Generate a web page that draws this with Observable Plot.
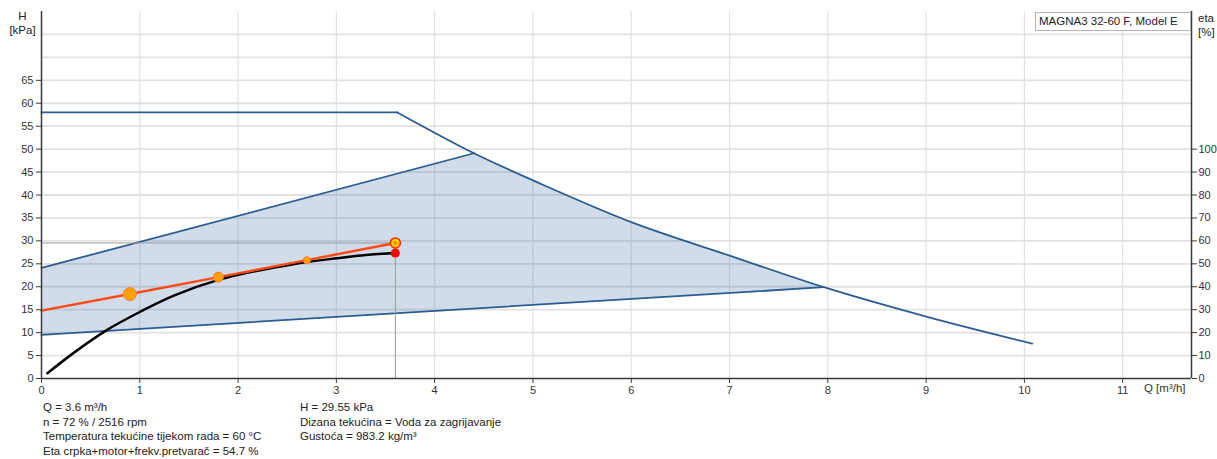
<!DOCTYPE html>
<html>
<head>
<meta charset="utf-8">
<script src="https://cdn.jsdelivr.net/npm/d3@7"></script>
<script src="https://cdn.jsdelivr.net/npm/@observablehq/plot@0.6"></script>
<style>
  body { margin: 0; background: #fff; font-family: Arial, "Liberation Sans", sans-serif; }
  #wrap { position: relative; width: 1217px; height: 459px; overflow: hidden; }
  #chart svg { display: block; }
  .ov { position: absolute; font-size: 11.5px; color: #222; white-space: nowrap; }
  #ylab { left: 6px; top: 10px; width: 33px; text-align: center; line-height: 13.5px; }
  #rlab { left: 1198px; top: 12px; line-height: 13.5px; }
  #title { left: 1035px; top: 12px; width: 156px; height: 19px; box-sizing: border-box;
           border: 1px solid #b4b4b4; background: #fff; padding-left: 3px; line-height: 17px; }
  #cap1 { left: 43px; top: 400px; line-height: 14.7px; }
  #cap2 { left: 300px; top: 400px; line-height: 14.7px; }
</style>
</head>
<body>
<div id="wrap">
  <div id="chart"></div>
  <div class="ov" id="ylab">H<br>[kPa]</div>
  <div class="ov" id="rlab">eta<br>[%]</div>
  <div class="ov" id="title">MAGNA3 32-60 F, Model E</div>
  <div class="ov" id="cap1"></div>
  <div class="ov" id="cap2"></div>
</div>
<script>
// ---- data ----
const qTicks = [0, 1, 2, 3, 4, 5, 6, 7, 8, 9, 10, 11];
const hTicks = [0, 5, 10, 15, 20, 25, 30, 35, 40, 45, 50, 55, 60, 65];
const hGrid = [5, 10, 15, 20, 25, 30, 35, 40, 45, 50, 55, 60, 65, 70, 75];
const etaTicks = [0, 10, 20, 30, 40, 50, 60, 70, 80, 90, 100];

// max curve: flat part and descending part
const maxFlatQ = [0, 3.62];
const maxFlatH = [58, 58];
const maxQ = [3.62, 4.4, 5, 6, 7, 7.96, 9, 10.08];
const maxH = [58, 49.1, 43.2, 34.1, 26.8, 19.9, 13.5, 7.6];

// operating area boundaries
const upperQ = [0, 4.4];
const upperH = [24.1, 49.1];
const lowerQ = [0, 7.96];
const lowerH = [9.5, 19.9];

// system curve (orange) and its points
const sysQ = [0, 0.9, 1.8, 2.7, 3.6];
const sysH = [14.8, 18.4, 22.1, 25.8, 29.55];

// efficiency curve (eta, %)
const etaQ = [0.06, 0.3, 0.66, 1.0, 1.34, 1.8, 2.0, 2.4, 2.7, 3.0, 3.3, 3.6];
const etaV = [2.3, 10.3, 21, 29, 36, 43, 45.2, 48.6, 50.8, 52.4, 53.8, 54.7];

// duty point
const dutyQ = 3.6;
const dutyH = 29.55;
const dutyEta = 54.7;

const captionLeft = [
  "Q = 3.6 m³/h",
  "n = 72 % / 2516 rpm",
  "Temperatura tekućine tijekom rada = 60 °C",
  "Eta crpka+motor+frekv.pretvarač = 54.7 %"
];
const captionRight = [
  "H = 29.55 kPa",
  "Dizana tekućina = Voda za zagrijavanje",
  "Gustoća = 983.2 kg/m³"
];

// ---- build ----
const pts = (xs, ys) => xs.map((x, i) => ({x, y: ys[i]}));
const maxFlat = pts(maxFlatQ, maxFlatH);
const maxDesc = pts(maxQ, maxH);
const upper = pts(upperQ, upperH);
const lower = pts(lowerQ, lowerH);
const sys = pts(sysQ, sysH);
const eta = etaQ.map((x, i) => ({x, y: etaV[i] / 2}));  // eta axis: 100 % = 50 kPa
const dots = sys.slice(1, 4);

// polygon of the operating area
const areaPoly = [
  ...upper,
  ...maxDesc.filter(d => d.x > upperQ[1] && d.x <= lowerQ[1]),
  ...lower.slice().reverse()
];

const xDomain = [0, 11.7];
const blue = "#2b5c92";
const axisColor = "#3a3a3a";

const chart = Plot.plot({
  width: 1217,
  height: 400,
  marginTop: 11,
  marginBottom: 22,
  marginLeft: 41,
  marginRight: 26,
  style: { fontFamily: "Arial, 'Liberation Sans', sans-serif", fontSize: "11px", color: "#333", background: "transparent" },
  x: { domain: xDomain },
  y: { domain: [0, 80] },
  marks: [
    Plot.gridX(qTicks.slice(1), { stroke: "#e2e2e2", strokeOpacity: 1, strokeWidth: 1.2 }),
    Plot.gridY(hGrid, { stroke: "#e2e2e2", strokeOpacity: 1, strokeWidth: 1.8 }),
    Plot.line(areaPoly, { x: "x", y: "y", fill: "#1f5c99", fillOpacity: 0.21, stroke: "none" }),
    Plot.line(upper, { x: "x", y: "y", stroke: blue, strokeWidth: 1.8 }),
    Plot.line(lower, { x: "x", y: "y", stroke: blue, strokeWidth: 1.8 }),
    Plot.line(maxFlat, { x: "x", y: "y", stroke: blue, strokeWidth: 1.8 }),
    Plot.line(maxDesc, { x: "x", y: "y", stroke: blue, strokeWidth: 1.8, curve: "catmull-rom" }),
    // duty point reference lines
    Plot.ruleY([dutyH], { x1: 0, x2: dutyQ, stroke: "#9a9a9a", strokeWidth: 1 }),
    Plot.ruleX([dutyQ], { y1: 0, y2: dutyH, stroke: "#9a9a9a", strokeWidth: 1 }),
    // efficiency curve
    Plot.line(eta, { x: "x", y: "y", stroke: "#000", strokeWidth: 2.5, curve: "monotone-x" }),
    Plot.dot([{ x: dutyQ, y: dutyEta / 2 }], { x: "x", y: "y", r: 4.5, fill: "#ff0000", stroke: "none" }),
    // system curve
    Plot.line(sys, { x: "x", y: "y", stroke: "#ff4a14", strokeWidth: 2.5 }),
    Plot.dot(dots.slice(0, 1), { x: "x", y: "y", r: 6.5, fill: "#ffa200", stroke: "#ff7a3a", strokeWidth: 1 }),
    Plot.dot(dots.slice(1, 2), { x: "x", y: "y", r: 5, fill: "#ffa200", stroke: "#ff7a3a", strokeWidth: 1 }),
    Plot.dot(dots.slice(2, 3), { x: "x", y: "y", r: 3.5, fill: "#ffa200", stroke: "#ff7a3a", strokeWidth: 1 }),
    Plot.dot([{ x: dutyQ, y: dutyH }], { x: "x", y: "y", r: 5, fill: "#ffd200", stroke: "#ff2a00", strokeWidth: 1.6 }),
    Plot.dot([{ x: dutyQ, y: dutyH }], { x: "x", y: "y", r: 2, fill: "#ff9000", stroke: "none" }),
    // axes
    Plot.ruleX([xDomain[0], xDomain[1]], { stroke: axisColor, strokeWidth: 1.5 }),
    Plot.ruleY([0], { stroke: axisColor, strokeWidth: 1.5 }),
    Plot.axisX(qTicks, { anchor: "bottom", tickSize: 5, tickPadding: 3, label: null, stroke: axisColor }),
    Plot.axisY(hTicks, { anchor: "left", tickSize: 5, tickPadding: 3, label: null, stroke: axisColor }),
    Plot.axisY(etaTicks.map(e => e / 2), { anchor: "right", tickSize: 5, tickPadding: 2, label: null, stroke: axisColor, tickFormat: d => String(Math.round(d * 2)) }),
    Plot.text(["Q [m³/h]"], { frameAnchor: "bottom-right", dx: -6, dy: 13, textAnchor: "end", fill: "#333", fontSize: 11.5 })
  ]
});
document.getElementById("chart").appendChild(chart);
document.getElementById("cap1").innerHTML = captionLeft.join("<br>");
document.getElementById("cap2").innerHTML = captionRight.join("<br>");
</script>
</body>
</html>
